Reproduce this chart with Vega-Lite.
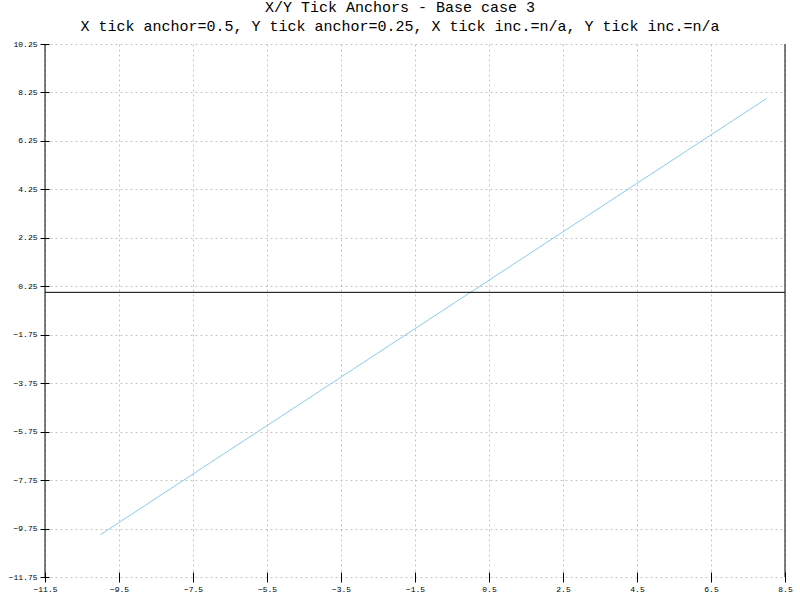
{
  "$schema": "https://vega.github.io/schema/vega-lite/v6.json",
  "width": 740,
  "height": 533,
  "autosize": {"type": "none"},
  "padding": {"left": 45, "top": 44, "right": 15, "bottom": 23},
  "background": "white",
  "title": {
    "text": "X/Y Tick Anchors - Base case 3",
    "subtitle": "X tick anchor=0.5, Y tick anchor=0.25, X tick inc.=n/a, Y tick inc.=n/a",
    "anchor": "middle",
    "dx": -15,
    "font": "Liberation Mono",
    "fontSize": 15,
    "fontWeight": "normal",
    "color": "black",
    "subtitleFont": "Liberation Mono",
    "subtitleFontSize": 15,
    "subtitleColor": "black",
    "subtitlePadding": 4,
    "offset": 6
  },
  "config": {
    "view": {"stroke": null},
    "axis": {
      "labelFont": "Liberation Mono",
      "labelFontSize": 8,
      "labelColor": "black",
      "tickColor": "black",
      "gridColor": "#c4c4c4",
      "gridDash": [2, 3],
      "gridWidth": 1,
      "title": null
    }
  },
  "datasets": {
    "line": [{"x": -10, "y": -10}, {"x": 8, "y": 8}],
    "vrules": [{"x": -11.5}, {"x": 8.5}],
    "hrules": [{"y": 0}]
  },
  "layer": [
    {
      "data": {"name": "line"},
      "mark": {"type": "line", "color": "#87CEEB", "strokeWidth": 1},
      "encoding": {
        "x": {
          "field": "x", "type": "quantitative",
          "scale": {"domain": [-11.5, 8.5], "nice": false, "zero": false},
          "axis": {
            "values": [-11.5, -9.5, -7.5, -5.5, -3.5, -1.5, 0.5, 2.5, 4.5, 6.5, 8.5],
            "format": ".1f",
            "domain": false,
            "offset": -5,
            "tickSize": 10,
            "labelPadding": 3,
            "labelFlush": false
          }
        },
        "y": {
          "field": "y", "type": "quantitative",
          "scale": {"domain": [-11.75, 10.25], "nice": false, "zero": false},
          "axis": {
            "values": [-11.75, -9.75, -7.75, -5.75, -3.75, -1.75, 0.25, 2.25, 4.25, 6.25, 8.25, 10.25],
            "format": ".2f",
            "domain": false,
            "offset": -4,
            "tickSize": 9,
            "labelPadding": 3,
            "labelFlush": false
          }
        }
      }
    },
    {
      "data": {"name": "vrules"},
      "mark": {"type": "rule", "color": "black", "strokeWidth": 1},
      "encoding": {"x": {"field": "x", "type": "quantitative"}}
    },
    {
      "data": {"name": "hrules"},
      "mark": {"type": "rule", "color": "black", "strokeWidth": 1},
      "encoding": {"y": {"field": "y", "type": "quantitative"}}
    }
  ]
}
